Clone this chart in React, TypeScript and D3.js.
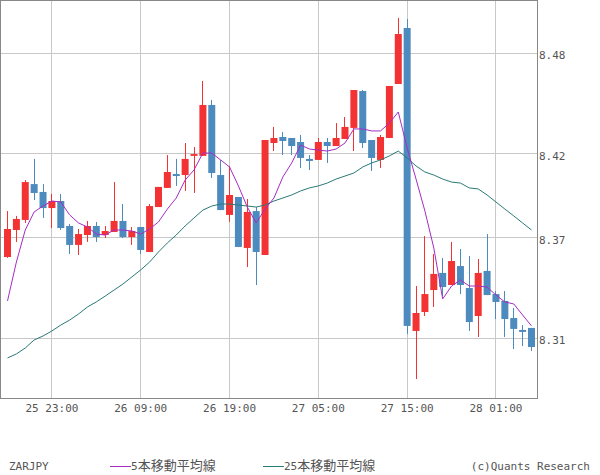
import React from "react";
import * as d3 from "d3";

const opens = [8.3585, 8.3746, 8.3806, 8.4020, 8.3973, 8.3877, 8.3919, 8.3770, 8.3657, 8.3716,
  8.3770, 8.3716, 8.3734, 8.3800, 8.3704, 8.3764, 8.3615, 8.3883, 8.3997, 8.4080,
  8.4074, 8.4188, 8.4188, 8.4492, 8.4074, 8.3836, 8.3943, 8.3639, 8.3859, 8.3597,
  8.4265, 8.4301, 8.4295, 8.4271, 8.4170, 8.4164, 8.4271, 8.4247, 8.4289, 8.4355,
  8.4575, 8.4283, 8.4164, 8.4295, 8.4617, 8.4951, 8.3144, 8.3257, 8.3388, 8.3490,
  8.3418, 8.3531, 8.3400, 8.3233, 8.3502, 8.3364, 8.3323, 8.3221, 8.3150, 8.3162];
const highs = [8.3859, 8.3830, 8.4044, 8.4170, 8.4020, 8.3961, 8.3961, 8.3782, 8.3752, 8.3800,
  8.3794, 8.3770, 8.4032, 8.3901, 8.3764, 8.3764, 8.3901, 8.4003, 8.4193, 8.4170,
  8.4265, 8.4241, 8.4635, 8.4522, 8.4164, 8.4128, 8.3943, 8.3931, 8.3883, 8.4283,
  8.4361, 8.4331, 8.4295, 8.4313, 8.4193, 8.4295, 8.4295, 8.4384, 8.4420, 8.4581,
  8.4581, 8.4283, 8.4313, 8.4605, 8.5011, 8.5005, 8.3412, 8.3710, 8.3603, 8.3579,
  8.3675, 8.3633, 8.3591, 8.3573, 8.3722, 8.3382, 8.3382, 8.3281, 8.3179, 8.3162];
const lows = [8.3580, 8.3675, 8.3788, 8.3925, 8.3818, 8.3758, 8.3746, 8.3603, 8.3597, 8.3675,
  8.3675, 8.3698, 8.3734, 8.3698, 8.3657, 8.3603, 8.3615, 8.3883, 8.3997, 8.4009,
  8.3979, 8.3967, 8.4188, 8.4056, 8.3865, 8.3794, 8.3645, 8.3525, 8.3418, 8.3597,
  8.4217, 8.4193, 8.4193, 8.4116, 8.4104, 8.4164, 8.4146, 8.4247, 8.4289, 8.4217,
  8.4235, 8.4098, 8.4116, 8.4295, 8.4617, 8.3126, 8.2857, 8.3233, 8.3287, 8.3352,
  8.3418, 8.3364, 8.3144, 8.3108, 8.3358, 8.3215, 8.3108, 8.3036, 8.3054, 8.3024];
const closes = [8.3752, 8.3812, 8.4032, 8.3967, 8.3877, 8.3919, 8.3758, 8.3657, 8.3722, 8.3770,
  8.3704, 8.3740, 8.3800, 8.3704, 8.3740, 8.3627, 8.3889, 8.4003, 8.4092, 8.4068,
  8.4170, 8.4199, 8.4492, 8.4086, 8.3865, 8.3955, 8.3645, 8.3854, 8.3615, 8.4283,
  8.4295, 8.4277, 8.4247, 8.4176, 8.4158, 8.4271, 8.4247, 8.4295, 8.4361, 8.4581,
  8.4265, 8.4176, 8.4301, 8.4605, 8.4915, 8.3174, 8.3251, 8.3364, 8.3484, 8.3406,
  8.3561, 8.3418, 8.3197, 8.3490, 8.3358, 8.3317, 8.3215, 8.3156, 8.3138, 8.3048];
const ma5 = [8.3323, 8.3555, 8.3746, 8.3854, 8.3889, 8.3919, 8.3913, 8.3836, 8.3788, 8.3764,
  8.3722, 8.3716, 8.3746, 8.3746, 8.3740, 8.3722, 8.3752, 8.3794, 8.3871, 8.3937,
  8.4044, 8.4104, 8.4205, 8.4205, 8.4164, 8.4122, 8.4009, 8.3883, 8.3788, 8.3871,
  8.3937, 8.4062, 8.4146, 8.4253, 8.4229, 8.4223, 8.4217, 8.4229, 8.4265, 8.4349,
  8.4349, 8.4337, 8.4337, 8.4384, 8.4450, 8.4235, 8.4050, 8.3859, 8.3639, 8.3335,
  8.3412, 8.3448, 8.3412, 8.3412, 8.3406, 8.3358, 8.3317, 8.3305, 8.3239, 8.3174];
const ma25 = [8.2983, 8.3007, 8.3042, 8.3090, 8.3114, 8.3144, 8.3179, 8.3209, 8.3245, 8.3287,
  8.3317, 8.3352, 8.3388, 8.3424, 8.3466, 8.3508, 8.3555, 8.3615, 8.3669, 8.3716,
  8.3770, 8.3818, 8.3865, 8.3889, 8.3901, 8.3901, 8.3895, 8.3889, 8.3883, 8.3895,
  8.3919, 8.3937, 8.3955, 8.3979, 8.3997, 8.4009, 8.4026, 8.4050, 8.4068, 8.4086,
  8.4122, 8.4146, 8.4164, 8.4188, 8.4217, 8.4176, 8.4128, 8.4092, 8.4074, 8.4050,
  8.4032, 8.4026, 8.3997, 8.3991, 8.3955, 8.3913, 8.3871, 8.3830, 8.3788, 8.3746];

const xTickIndex = [5, 15, 25, 35, 45, 55];
const xTickLabels = ["25 23:00", "26 09:00", "26 19:00", "27 05:00", "27 15:00", "28 01:00"];
const yTicks = [8.48, 8.42, 8.37, 8.31];

const W = 600, H = 475;
const PL = 0, PT = 0, PR = 537, PB = 398;
const UP = "#f33333";
const DOWN = "#4d8bbf";
const C5 = "#a62cc4";
const C25 = "#2a7a76";
const TXT = "#555";
const MONO = "'DejaVu Sans Mono', monospace";

export default function App() {
  const n = closes.length;
  const x = d3.scaleLinear().domain([0, n - 1]).range([7.5, 531.5]);
  const y = d3.scaleLinear().domain([8.2744, 8.5118]).range([PB, PT]);
  const line = d3.line<number>().x((_, i) => x(i)).y((v) => y(v));
  const px = (v: number) => Math.floor(v) + 0.5;

  return (
    <svg width={W} height={H} style={{ position: "absolute", left: 0, top: 0, background: "#fff" }}>
      <defs>
        <clipPath id="plot">
          <rect x={PL} y={PT} width={PR - PL} height={PB - PT} />
        </clipPath>
      </defs>
      <rect x={0} y={0} width={W} height={H} fill="#fff" />
      {yTicks.map((t) => (
        <line key={"gy" + t} x1={PL} x2={PR} y1={px(y(t))} y2={px(y(t))} stroke="#c8c8c8" strokeWidth={1} />
      ))}
      {xTickIndex.map((i) => (
        <line key={"gx" + i} x1={px(x(i))} x2={px(x(i))} y1={PT} y2={PB} stroke="#c8c8c8" strokeWidth={1} />
      ))}
      <g clipPath="url(#plot)">
        {closes.map((c, i) => {
          const o = opens[i];
          const up = c >= o;
          const col = up ? UP : DOWN;
          const cx = x(i);
          const top = y(Math.max(o, c));
          const bot = y(Math.min(o, c));
          return (
            <g key={i}>
              <line x1={px(cx)} x2={px(cx)} y1={y(highs[i])} y2={y(lows[i])} stroke={col} strokeWidth={1} />
              <rect x={cx - 3.5} y={top} width={7} height={Math.max(1.5, bot - top)} fill={col} />
            </g>
          );
        })}
        <path d={line(ma25) || ""} fill="none" stroke={C25} strokeWidth={1} />
        <path d={line(ma5) || ""} fill="none" stroke={C5} strokeWidth={1} />
      </g>
      <line x1={0.5} x2={0.5} y1={0} y2={PB + 0.5} stroke="#888" />
      <line x1={0} x2={PR + 0.5} y1={0.5} y2={0.5} stroke="#888" />
      <line x1={PR + 0.5} x2={PR + 0.5} y1={0} y2={PB + 0.5} stroke="#888" />
      <line x1={0} x2={PR + 1} y1={PB + 0.5} y2={PB + 0.5} stroke="#888" />
      {yTicks.map((t) => (
        <text key={"yl" + t} x={PR + 2} y={y(t) + 6} fontFamily={MONO} fontSize={11} fill={TXT}>
          {d3.format(".2f")(t)}
        </text>
      ))}
      {xTickIndex.map((i, k) => (
        <text key={"xl" + i} x={x(i)} y={PB + 14} fontFamily={MONO} fontSize={11} fill={TXT} textAnchor="middle">
          {xTickLabels[k]}
        </text>
      ))}
      <text x={9} y={470} fontFamily={MONO} fontSize={11} fill={TXT}>ZARJPY</text>
      <line x1={110} x2={131} y1={466.5} y2={466.5} stroke={C5} />
      <text x={131} y={470} fontFamily={MONO} fontSize={11} fill={TXT}>
        5<tspan fontFamily="'Noto Sans CJK JP'" fontSize={13}>本移動平均線</tspan>
      </text>
      <line x1={263} x2={284} y1={466.5} y2={466.5} stroke={C25} />
      <text x={284} y={470} fontFamily={MONO} fontSize={11} fill={TXT}>
        25<tspan fontFamily="'Noto Sans CJK JP'" fontSize={13}>本移動平均線</tspan>
      </text>
      <text x={590} y={470} fontFamily={MONO} fontSize={11} fill={TXT} textAnchor="end">(c)Quants Research</text>
    </svg>
  );
}
